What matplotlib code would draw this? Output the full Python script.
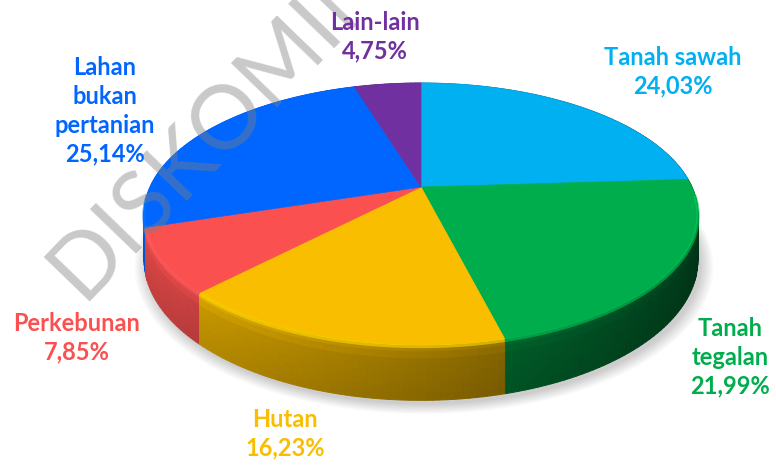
import numpy as np
import matplotlib
matplotlib.use("Agg")
import matplotlib.pyplot as plt
from matplotlib.patches import Polygon
from matplotlib.colors import to_rgb

# data
categories = ["Tanah sawah", "Tanah tegalan", "Hutan", "Perkebunan",
              "Lahan bukan pertanian", "Lain-lain"]
shares = [24.03, 21.99, 16.23, 7.85, 25.14, 4.75]
colors = ["#00B0F0", "#00AD4C", "#FABE00", "#FA5050", "#0066FF", "#7030A0"]
label_names = ["Tanah sawah", "Tanah\ntegalan", "Hutan", "Perkebunan",
               "Lahan\nbukan\npertanian", "Lain-lain"]

# layout of the fake 3d pie (pixels)
CX, CY = 421, 187
R, RY = 271, 125.4
G = 0.206          # perspective strength
DEPTH = 44
label_pos = [(673, 72), (730, 357), (285, 434), (77, 338), (105, 111), (375, 37)]

plt.rcParams["font.family"] = ["Lato", "DejaVu Sans"]


def project(theta, drop=0.0):
    u = np.sin(theta)
    v = -np.cos(theta)
    p = 1.0 / (1.0 - G * v)
    return CX + R * u * p, CY + RY * v * p + drop * p


def shade(color, f):
    r, g, b = to_rgb(color)
    return (min(r * f, 1), min(g * f, 1), min(b * f, 1))


fig = plt.figure(figsize=(7.76, 4.65), dpi=100)
ax = fig.add_axes([0, 0, 1, 1])
ax.set_xlim(0, 776)
ax.set_ylim(465, 0)
ax.axis("off")

total = sum(shares)
bounds = np.concatenate([[0], np.cumsum(shares)]) / total * 2 * np.pi

# soft shadow under the pie
full = np.linspace(0, 2 * np.pi, 200)
bx, by = project(full, DEPTH)
for k in np.linspace(1.045, 1.0, 10):
    ax.add_patch(Polygon(np.column_stack([CX + (bx - CX) * k + 3, CY + (by - CY) * k + 4]),
                         closed=True, facecolor="black", edgecolor="none", alpha=0.018,
                         zorder=1))

# side walls, shaded left to right and top to bottom
quads = []
nb = 8
for i in range(len(shares)):
    t = np.linspace(bounds[i], bounds[i + 1], max(int(shares[i] * 3), 4))
    for t0, t1 in zip(t[:-1], t[1:]):
        tm = 0.5 * (t0 + t1)
        v = -np.cos(tm)
        hf = 0.88 - 0.58 * (np.sin(tm) + 1) / 2
        for b in range(nb):
            d0, d1 = b / nb, (b + 1) / nb
            dm = 0.5 * (d0 + d1)
            vf = 1.18 - 0.6 * dm if dm < 0.3 else 1.0 - 0.12 * (dm - 0.3)
            x0a, y0a = project(t0, DEPTH * d0)
            x1a, y1a = project(t1, DEPTH * d0)
            x0b, y0b = project(t0, DEPTH * d1)
            x1b, y1b = project(t1, DEPTH * d1)
            c = shade(colors[i], hf * vf)
            quads.append((v, [(x0a, y0a), (x1a, y1a), (x1b, y1b), (x0b, y0b)], c))

quads.sort(key=lambda q: q[0])
for v, pts, c in quads:
    ax.add_patch(Polygon(pts, closed=True, facecolor=c, edgecolor=c, lw=0.7, zorder=2))

# top faces
for i in range(len(shares)):
    t = np.linspace(bounds[i], bounds[i + 1], 120)
    x, y = project(t)
    pts = np.column_stack([np.r_[CX, x], np.r_[CY, y]])
    ax.add_patch(Polygon(pts, closed=True, facecolor=colors[i], edgecolor=colors[i],
                         lw=0.5, zorder=3))
    # bevel highlight on the front rim
    front = -np.cos(t) > 0.05
    if front.any():
        ax.plot(x[front], y[front] + 1.5, color=shade(colors[i], 1.15), lw=2.5,
                alpha=0.6, zorder=4, solid_capstyle="butt")

# labels
for i, name in enumerate(label_names):
    pct = f"{shares[i]:.2f}".replace(".", ",") + "%"
    ax.text(label_pos[i][0], label_pos[i][1], name + "\n" + pct, color=colors[i],
            fontsize=17, fontweight="bold", ha="center", va="center",
            linespacing=1.3, zorder=6)

# watermark
ax.text(262, 80, "DISKOMINFO", fontsize=64, color="#7f7f7f", alpha=0.42,
        rotation=46, rotation_mode="anchor", ha="center", va="center",
        fontweight="normal", zorder=5)

fig.savefig("out.png", dpi=100)
